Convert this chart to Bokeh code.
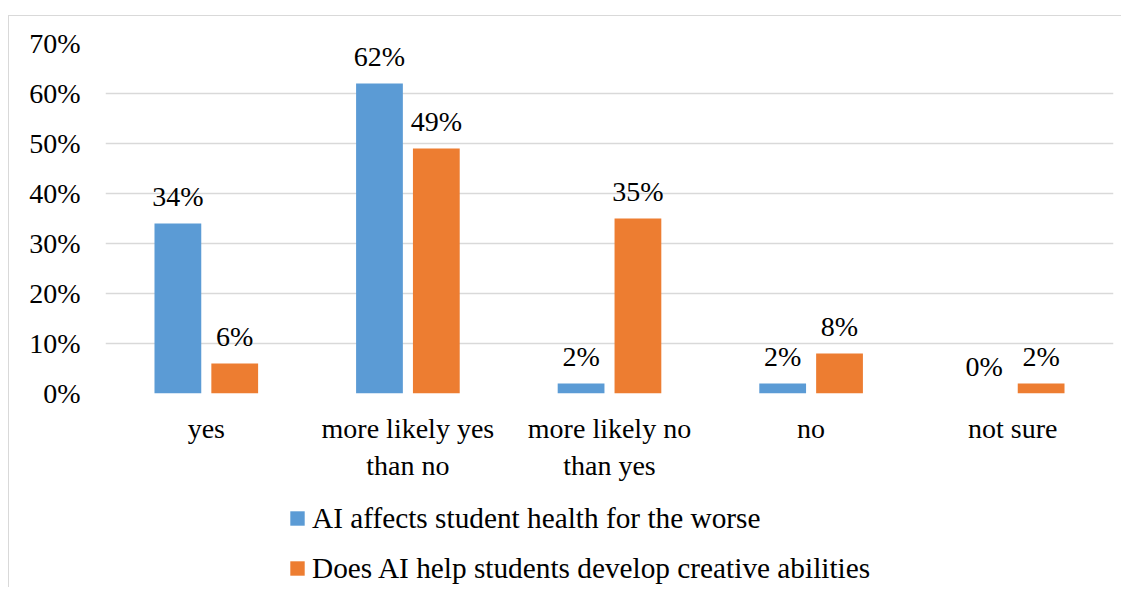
from bokeh.plotting import figure
from bokeh.layouts import column
from bokeh.models import ColumnDataSource, FactorRange, Range1d, NumeralTickFormatter, Legend, LegendItem, FixedTicker
from bokeh.transform import dodge
from bokeh.core.properties import value
from bokeh.embed import file_html
from bokeh.resources import INLINE

categories = ["yes", "more likely yes\nthan no", "more likely no\nthan yes", "no", "not sure"]
health_worse = [0.34, 0.62, 0.02, 0.02, 0.00]
creative = [0.06, 0.49, 0.35, 0.08, 0.02]
series_names = ["AI affects student health for the worse",
                "Does AI help students develop creative abilities"]
y_ticks = [0.0, 0.1, 0.2, 0.3, 0.4, 0.5, 0.6, 0.7]

BLUE = "#5B9BD5"
ORANGE = "#ED7D31"
GRID = "#D9D9D9"
FONT = "Liberation Serif"
FS = "28px"

src = ColumnDataSource(dict(
    cat=categories,
    a=health_worse,
    b=creative,
    a_lbl=[f"{round(v*100)}%" for v in health_worse],
    b_lbl=[f"{round(v*100)}%" for v in creative],
))

off = 0.141
bw = 0.232

p = figure(x_range=FactorRange(*categories, range_padding=0), y_range=Range1d(0, 0.7),
           width=1112, height=472, output_backend="svg", toolbar_location=None,
           min_border_left=96, min_border_right=8, min_border_top=27, min_border_bottom=95)
p.outline_line_color = None
p.background_fill_color = "white"
p.border_fill_color = "white"

p.vbar(x=dodge("cat", -off, range=p.x_range), top="a", width=bw, source=src,
       fill_color=BLUE, line_color=None)
p.vbar(x=dodge("cat", off, range=p.x_range), top="b", width=bw, source=src,
       fill_color=ORANGE, line_color=None)

p.text(x=dodge("cat", -off, range=p.x_range), y="a", text="a_lbl", source=src,
       text_align="center", text_baseline="middle", y_offset=-27,
       text_font=value(FONT), text_font_size=FS, text_color="#000000")
p.text(x=dodge("cat", off, range=p.x_range), y="b", text="b_lbl", source=src,
       text_align="center", text_baseline="middle", y_offset=-27,
       text_font=value(FONT), text_font_size=FS, text_color="#000000")

p.xgrid.grid_line_color = None
p.ygrid.grid_line_color = GRID
p.ygrid.grid_line_width = 1.3
p.ygrid.ticker = FixedTicker(ticks=y_ticks)

p.yaxis.ticker = FixedTicker(ticks=y_ticks)
p.yaxis.formatter = NumeralTickFormatter(format="0%")
for ax in (p.xaxis[0], p.yaxis[0]):
    ax.axis_line_color = None
    ax.major_tick_line_color = None
    ax.minor_tick_line_color = None
    ax.major_tick_out = 0
    ax.major_tick_in = 0
    ax.minor_tick_out = 0
    ax.minor_tick_in = 0
    ax.major_label_text_font = FONT
    ax.major_label_text_font_size = FS
    ax.major_label_text_color = "#000000"
p.yaxis.major_label_standoff = 25
p.xaxis.major_label_standoff = 19

# legend strip below the chart (same series, drawn outside its visible range)
lg = figure(x_range=FactorRange(*categories, range_padding=0), y_range=Range1d(1, 2),
            width=1112, height=99, output_backend="svg", toolbar_location=None,
            x_axis_location=None, y_axis_location=None,
            min_border_left=96, min_border_right=8, min_border_top=0, min_border_bottom=0)
lg.outline_line_color = None
lg.xgrid.grid_line_color = None
lg.ygrid.grid_line_color = None
lg.border_fill_color = "white"
d1 = lg.vbar(x=dodge("cat", -off, range=lg.x_range), top="a", width=bw, source=src,
             fill_color=BLUE, line_color=None)
d2 = lg.vbar(x=dodge("cat", off, range=lg.x_range), top="b", width=bw, source=src,
             fill_color=ORANGE, line_color=None)

legend = Legend(items=[LegendItem(label=series_names[0], renderers=[d1]),
                       LegendItem(label=series_names[1], renderers=[d2])],
                location=(183, 1), orientation="vertical",
                padding=0, margin=0, spacing=14,
                glyph_width=18, glyph_height=18, label_height=36, label_standoff=6,
                label_text_font=FONT, label_text_font_size="29.3px", label_text_color="#000000",
                border_line_color=None, background_fill_alpha=0)
lg.add_layout(legend, "center")

layout = column(p, lg, spacing=0)
layout.styles = {"margin-left": "8px", "margin-top": "15px",
                 "border-left": "1px solid " + GRID, "border-top": "1px solid " + GRID}
open("out.html", "w").write(file_html(layout, INLINE))
